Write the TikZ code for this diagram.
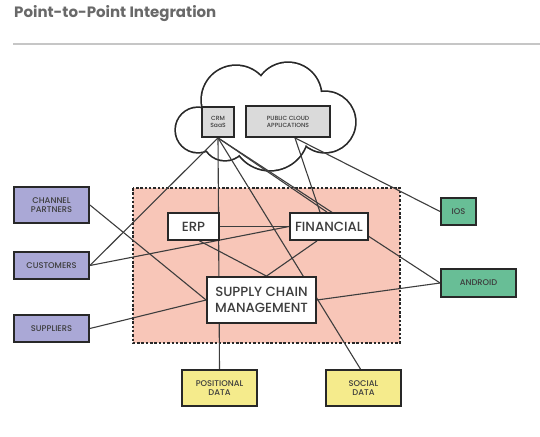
\documentclass[tikz,border=0pt]{standalone}
\usepackage{fontspec}
\setmainfont{Poppins}
\newfontfamily\medfont{Poppins Medium}
\definecolor{purp}{RGB}{170,168,214}
\definecolor{grn}{RGB}{104,190,150}
\definecolor{yel}{RGB}{245,235,140}
\definecolor{pnk}{RGB}{248,198,184}
\definecolor{gbox}{RGB}{218,218,218}
\definecolor{ink}{RGB}{40,40,40}
\definecolor{ttl}{RGB}{105,105,105}
\pgfdeclarelayer{bg}
\pgfdeclarelayer{mid}
\pgfsetlayers{bg,mid,main}
\begin{document}
\begin{tikzpicture}[x=1pt,y=-1pt,
  box/.style={draw=ink,line width=1.8pt,inner sep=0pt,align=center,text=ink!90},
  small/.style={box,font=\medfont\fontsize{8.3}{9.5}\selectfont},
  tiny/.style={box,font=\medfont\fontsize{6}{7}\selectfont,fill=gbox},
  big/.style={box,fill=white,font=\medfont\fontsize{13.3}{15.5}\selectfont},
  conn/.style={draw=ink!90,line width=1.1pt}]
\useasboundingbox (0,0) rectangle (540,436);
% title
\node[anchor=base west,inner sep=0pt,text=ttl,font=\fontsize{15}{18}\selectfont\bfseries] (title) at (14,18) {Point-to-Point Integration};
\draw[gray!45,line width=1.6pt] (13,44) -- (540,44);
\begin{pgfonlayer}{bg}
% pink area
\draw[fill=pnk,draw=ink,line width=1.6pt,dash pattern=on 2.5pt off 1.8pt] (133,188) rectangle (400,343);
% cloud
\foreach \cx/\cy/\r in {198/130/22,236/100/34,288/96/33,325/122/30,270/132/38,225/138/22}
  \draw[ink,line width=3.4pt] (\cx,\cy) circle (\r);
\foreach \cx/\cy/\r in {198/130/22,236/100/34,288/96/33,325/122/30,270/132/38,225/138/22}
  \fill[white] (\cx,\cy) circle (\r);
\end{pgfonlayer}
% nodes
\node[tiny,minimum width=32,minimum height=30] (crm) at (218,122) {CRM\\SaaS};
\node[tiny,minimum width=84,minimum height=31] (pub) at (288,121.5) {PUBLIC CLOUD\\APPLICATIONS};
\node[small,fill=purp,minimum width=75,minimum height=36] (cp) at (51.5,205) {CHANNEL\\PARTNERS};
\node[small,fill=purp,minimum width=75,minimum height=27] (cus) at (51.5,265.5) {CUSTOMERS};
\node[small,fill=purp,minimum width=75,minimum height=27] (sup) at (51.5,328.5) {SUPPLIERS};
\node[big,minimum width=51,minimum height=27] (erp) at (193.5,226.5) {ERP};
\node[big,minimum width=78,minimum height=27] (fin) at (329,226.5) {FINANCIAL};
\node[big,minimum width=109,minimum height=46] (scm) at (261.5,300) {SUPPLY CHAIN\\MANAGEMENT};
\node[small,fill=grn,minimum width=35,minimum height=27] (ios) at (458.5,211.5) {IOS};
\node[small,fill=grn,minimum width=75,minimum height=28] (and) at (478.5,283) {ANDROID};
\node[small,fill=yel,minimum width=75,minimum height=36] (pos) at (219.5,388) {POSITIONAL\\DATA};
\node[small,fill=yel,minimum width=75,minimum height=36] (soc) at (363.5,388) {SOCIAL\\DATA};
% connectors (behind boxes)
\begin{pgfonlayer}{mid}
\draw[conn] (crm.south) -- (cus.east);
\draw[conn] (crm.south) -- (pos.north);
\draw[conn] (crm.south) -- ([xshift=-3]soc.north);
\draw[conn] (crm.south) -- ([xshift=-2]fin.north);
\draw[conn] (crm.south) -- (and.west);
\draw[conn] ([xshift=7]pub.south) -- ([xshift=-9]fin.north);
\draw[conn] ([xshift=7]pub.south) -- (ios.west);
\draw[conn] (cus.east) -- (fin.west);
\draw[conn] (erp.east) -- (fin.west);
\draw[conn] ([xshift=6]erp.south) -- ([xshift=5]scm.north);
\draw[conn] ([xshift=-12]fin.south) -- ([xshift=5]scm.north);
\draw[conn] (cp.east) -- (scm.west);
\draw[conn] (sup.east) -- (scm.west);
\draw[conn] (scm.east) -- (and.west);
\end{pgfonlayer}
\end{tikzpicture}
\end{document}
